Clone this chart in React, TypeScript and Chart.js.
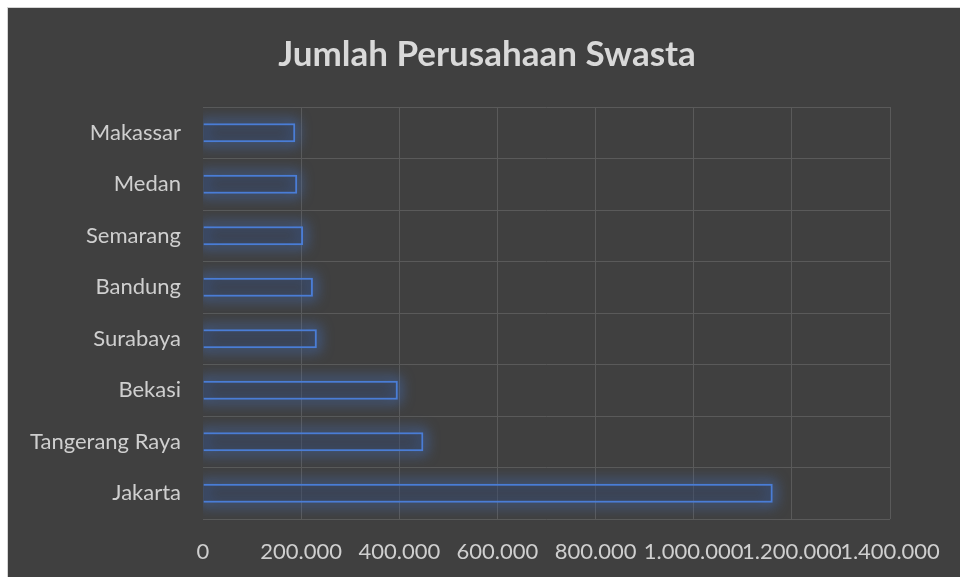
import React, { useEffect, useRef } from "react";
import { Chart, registerables } from "chart.js";

Chart.register(...registerables);

const TITLE = "Jumlah Perusahaan Swasta";
const CATEGORIES = ["Makassar", "Medan", "Semarang", "Bandung", "Surabaya", "Bekasi", "Tangerang Raya", "Jakarta"];
const VALUES = [188000, 192000, 204000, 224000, 232000, 397000, 449000, 1161000];
const X_MIN = 0;
const X_MAX = 1400000;
const X_STEP = 200000;

const FONT = "Lato, 'Open Sans', sans-serif";

function fmt(v: number): string {
  return String(Math.round(v)).replace(/\B(?=(\d{3})+(?!\d))/g, ".");
}

const glowPlugin = {
  id: "glow",
  beforeDraw(chart: any) {
    const tb = chart.titleBlock;
    if (tb) {
      tb.left = 6;
      tb.right = chart.width;
    }
  },
  beforeDatasetsDraw(chart: any) {
    const ctx = chart.ctx;
    const area = chart.chartArea;
    const meta = chart.getDatasetMeta(0);
    ctx.save();
    ctx.beginPath();
    ctx.rect(area.left, 0, chart.width - area.left, chart.height);
    ctx.clip();
    const OFF = 10000;
    ctx.shadowColor = "rgba(68,114,196,0.85)";
    ctx.shadowBlur = 13;
    ctx.shadowOffsetX = OFF;
    ctx.strokeStyle = "#4472c4";
    ctx.lineWidth = 5;
    for (const el of meta.data) {
      const p = el.getProps(["x", "y", "base", "height"], true);
      const left = Math.min(p.x, p.base);
      const w = Math.abs(p.x - p.base);
      ctx.strokeRect(left - OFF, p.y - p.height / 2, w, p.height);
    }
    ctx.restore();
  },
};

export default function App() {
  const ref = useRef<HTMLCanvasElement | null>(null);
  useEffect(() => {
    if (!ref.current) return;
    const chart = new Chart(ref.current, {
      type: "bar",
      data: {
        labels: CATEGORIES,
        datasets: [
          {
            data: VALUES,
            backgroundColor: "rgba(45,55,80,0.3)",
            borderColor: "#4a7dd6",
            borderWidth: 2,
            barPercentage: 0.74,
            categoryPercentage: 0.5,
          },
        ],
      },
      options: {
        indexAxis: "y",
        animation: false,
        responsive: true,
        maintainAspectRatio: false,
        layout: { padding: { left: 0, right: 70, top: 0, bottom: 0 } },
        plugins: {
          legend: { display: false },
          tooltip: { enabled: false },
          title: {
            display: true,
            text: TITLE,
            color: "#d9d9d9",
            font: { family: FONT, size: 35, weight: "bold" },
            padding: { top: 26, bottom: 31 },
          },
        },
        scales: {
          x: {
            min: X_MIN,
            max: X_MAX,
            afterFit: (s: any) => {
              s.height = 58;
            },
            ticks: {
              stepSize: X_STEP,
              autoSkip: false,
              maxRotation: 0,
              color: "#cfcfcf",
              font: { family: FONT, size: 22 },
              padding: 20,
              callback: (v: any) => fmt(Number(v)),
            },
            grid: {
              drawTicks: false,
              color: (c: any) => (c.tick && c.tick.value === 0 ? "rgba(0,0,0,0)" : "#5a5a5a"),
              lineWidth: 1,
            },
            border: { display: false },
          },
          y: {
            afterFit: (s: any) => {
              s.width = 195;
            },
            ticks: {
              color: "#cfcfcf",
              font: { family: FONT, size: 22 },
              padding: 22,
            },
            grid: {
              offset: true,
              drawTicks: false,
              color: "#5a5a5a",
              lineWidth: 1,
            },
            border: { display: false },
          },
        },
      },
      plugins: [glowPlugin],
    });
    return () => chart.destroy();
  }, []);

  return (
    <div
      style={{
        position: "fixed",
        left: 7,
        top: 7,
        width: 953,
        height: 570,
        background: "#404040",
        borderLeft: "1px solid #d4d4d4",
        borderTop: "1px solid #d4d4d4",
        boxSizing: "border-box",
      }}
    >
      <div style={{ position: "relative", width: 952, height: 569 }}>
        <canvas ref={ref} />
      </div>
    </div>
  );
}
